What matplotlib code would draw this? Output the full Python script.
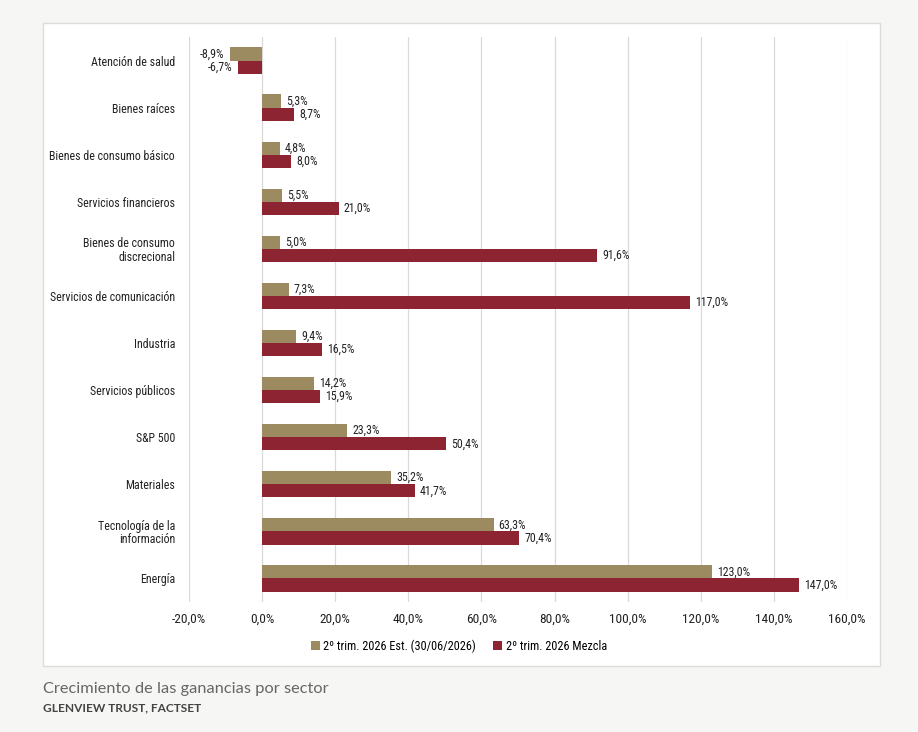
import matplotlib.pyplot as plt
from matplotlib import font_manager
from matplotlib.patches import Rectangle
import numpy as np

sectors = [
    "Atención de salud",
    "Bienes raíces",
    "Bienes de consumo básico",
    "Servicios financieros",
    "Bienes de consumo\ndiscrecional",
    "Servicios de comunicación",
    "Industria",
    "Servicios públicos",
    "S&P 500",
    "Materiales",
    "Tecnología de la\ninformación",
    "Energía",
]
est_q2 = [-8.9, 5.3, 4.8, 5.5, 5.0, 7.3, 9.4, 14.2, 23.3, 35.2, 63.3, 123.0]
blend_q2 = [-6.7, 8.7, 8.0, 21.0, 91.6, 117.0, 16.5, 15.9, 50.4, 41.7, 70.4, 147.0]
series_names = ["2º trim. 2026 Est. (30/06/2026)", "2º trim. 2026 Mezcla"]
x_ticks = [-20, 0, 20, 40, 60, 80, 100, 120, 140, 160]

TAN = "#9c8a60"
RED = "#8c2432"


def pick_font(names):
    for n in names:
        try:
            font_manager.findfont(n, fallback_to_default=False)
            return n
        except ValueError:
            continue
    return "DejaVu Sans"


NARROW = pick_font(["Liberation Sans Narrow", "Roboto Condensed", "Roboto"])
LABEL_FONT = [NARROW, "DejaVu Sans"]

W, H = 918, 732
fig = plt.figure(figsize=(W / 100, H / 100), dpi=100)
fig.patch.set_facecolor("#f6f6f4")

# white chart card
fig.patches.append(Rectangle((43 / W, 1 - 666 / H), (880 - 43) / W, (666 - 23) / H,
                             transform=fig.transFigure, facecolor="white",
                             edgecolor="#dcdcdc", linewidth=1.0, zorder=-5))

ax = fig.add_axes([189 / W, 1 - 602 / H, (847 - 189) / W, (602 - 37) / H])
ax.set_facecolor("white")
ax.set_zorder(2)

y = np.arange(len(sectors))
h = 0.28
ax.barh(y - h / 2, est_q2, height=h, color=TAN, label=series_names[0], zorder=3)
ax.barh(y + h / 2, blend_q2, height=h, color=RED, label=series_names[1], zorder=3)


def fmt(v):
    return f"{v:.1f}%".replace(".", ",")


for yi, a, b in zip(y, est_q2, blend_q2):
    for val, off in ((a, -h / 2), (b, h / 2)):
        if val >= 0:
            ax.text(val + 1.4, yi + off, fmt(val), va="center", ha="left",
                    fontsize=8.6, family=LABEL_FONT, color="#222222")
        else:
            ax.text(val - 1.4, yi + off, fmt(val), va="center", ha="right",
                    fontsize=8.6, family=LABEL_FONT, color="#222222")

ax.set_xlim(-20, 160)
ax.set_ylim(len(sectors) - 0.5, -0.5)
ax.set_xticks(x_ticks)
ax.set_xticklabels([fmt(t) for t in x_ticks], family=LABEL_FONT, fontsize=9.6, color="#222222")
ax.set_yticks(y)
ax.set_yticklabels(sectors, family=LABEL_FONT, fontsize=8.6, color="#222222", ha="right",
                   linespacing=1.05)
ax.tick_params(length=0, pad=8)
ax.tick_params(axis="y", pad=10)
ax.grid(axis="x", color="#d9d9d9", linewidth=0.9, zorder=0)
for s in ax.spines.values():
    s.set_visible(False)

leg = fig.legend(loc="center", bbox_to_anchor=(0.5, 1 - 646 / H), ncol=2, frameon=False,
                 prop={"family": LABEL_FONT, "size": 8.8}, handlelength=0.7, handleheight=0.7,
                 handletextpad=0.3, columnspacing=1.4)

fig.text(43 / W, 1 - 689 / H, "Crecimiento de las ganancias por sector", fontsize=11.8,
         color="#666666", family="Lato", va="center")
fig.text(43 / W, 1 - 708 / H, "GLENVIEW TRUST, FACTSET", fontsize=8.6, fontweight="bold",
         color="#444444", family="Lato", va="center")

fig.savefig("out.png", dpi=100, facecolor=fig.get_facecolor())
